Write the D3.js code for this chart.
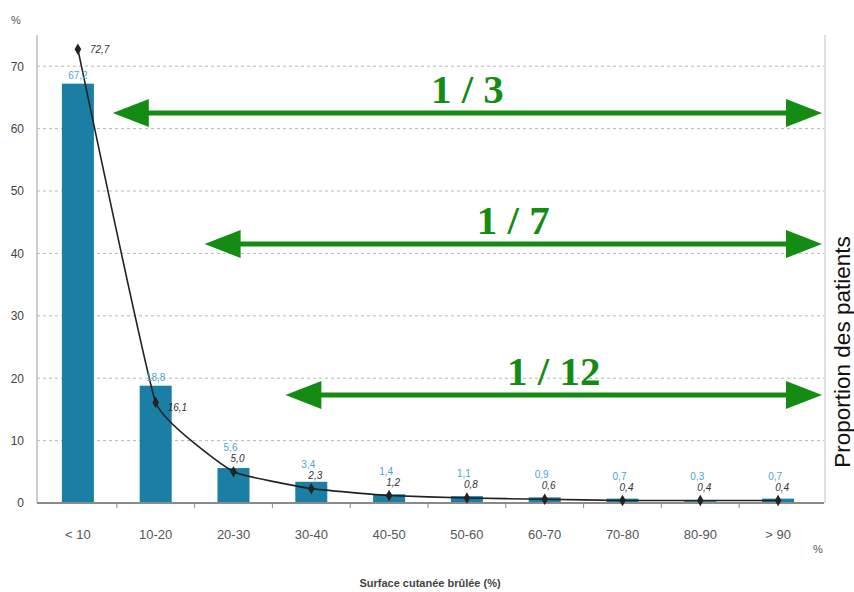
<!DOCTYPE html>
<html>
<head>
<meta charset="utf-8">
<script src="https://cdn.jsdelivr.net/npm/d3@7"></script>
<style>
  body { margin: 0; background: #fff; }
  svg { display: block; }
</style>
</head>
<body>
<svg id="chart" width="854" height="592"></svg>
<script>
// Burned body surface area classes (%)
const categories = ["< 10", "10-20", "20-30", "30-40", "40-50", "50-60", "60-70", "70-80", "80-90", "> 90"];
// Share of patients per class (bars)
const barValues = [67.2, 18.8, 5.6, 3.4, 1.4, 1.1, 0.9, 0.7, 0.3, 0.7];
// Second series drawn as a curve with diamond markers
const lineValues = [72.7, 16.1, 5.0, 2.3, 1.2, 0.8, 0.6, 0.4, 0.4, 0.4];
// Left axis ticks
const yTicks = [0, 10, 20, 30, 40, 50, 60, 70];
// Cumulative proportion annotations and the class where each starts
const shareLabels = ["1 / 3", "1 / 7", "1 / 12"];
const shareFrom = ["10-20", "20-30", "30-40"];

// Layout
const plot = { left: 37, right: 824, top: 35, bottom: 503 };
const arrowLayout = [
  { level: 62.5, nudge: -4 },
  { level: 41.5, nudge: 10 },
  { level: 17.3, nudge: 13 }
];
const green = "#148c14";
const barColor = "#1a7ea5";
const fmt = v => d3.format(".1f")(v).replace(".", ",");

const svg = d3.select("#chart");

const x = d3.scaleBand().domain(categories).range([39, 817]).padding(0);
const y = d3.scaleLinear().domain([0, 75]).range([plot.bottom, plot.top]);
const bw = x.bandwidth();
const cx = c => x(c) + bw / 2;

// Gridlines
svg.append("g")
  .selectAll("line")
  .data(yTicks.filter(t => t > 0))
  .join("line")
  .attr("x1", plot.left).attr("x2", plot.right)
  .attr("y1", d => y(d)).attr("y2", d => y(d))
  .attr("stroke", "#b8b8b8")
  .attr("stroke-width", 1)
  .attr("stroke-dasharray", "3,3");

// Frame lines (left axis and right border)
svg.append("line")
  .attr("x1", plot.left).attr("x2", plot.left)
  .attr("y1", plot.top).attr("y2", plot.bottom)
  .attr("stroke", "#bdbdbd").attr("stroke-width", 1.5);
svg.append("line")
  .attr("x1", plot.right + 1).attr("x2", plot.right + 1)
  .attr("y1", plot.top).attr("y2", plot.bottom)
  .attr("stroke", "#d6d6d6").attr("stroke-width", 1.5);

// Left axis labels
const yAxis = d3.axisLeft(y).tickValues(yTicks).tickSize(0).tickPadding(0);
const gy = svg.append("g").attr("transform", `translate(${plot.left - 13},0)`).call(yAxis);
gy.select(".domain").remove();
gy.selectAll("text")
  .attr("font-family", "Liberation Sans, Arial, sans-serif")
  .attr("font-size", 12)
  .attr("fill", "#444");

svg.append("text")
  .attr("x", 16).attr("y", 24)
  .attr("text-anchor", "middle")
  .attr("font-family", "Liberation Sans, Arial, sans-serif")
  .attr("font-size", 11)
  .attr("fill", "#555")
  .text("%");

// Bars
svg.append("g")
  .selectAll("rect")
  .data(categories)
  .join("rect")
  .attr("x", c => cx(c) - 16)
  .attr("width", 32)
  .attr("y", (c, i) => y(barValues[i]))
  .attr("height", (c, i) => y(0) - y(barValues[i]))
  .attr("fill", barColor);

// Bottom axis
const xAxis = d3.axisBottom(x).tickSize(0).tickPadding(0);
const gx = svg.append("g").attr("transform", `translate(0,${plot.bottom})`).call(xAxis);
gx.select(".domain").remove();
gx.selectAll("text")
  .attr("dy", 0)
  .attr("y", 36)
  .attr("font-family", "Liberation Sans, Arial, sans-serif")
  .attr("font-size", 13)
  .attr("fill", "#555");
svg.append("line")
  .attr("x1", plot.left).attr("x2", plot.right)
  .attr("y1", plot.bottom).attr("y2", plot.bottom)
  .attr("stroke", "#8a8a8a").attr("stroke-width", 2);
// small ticks on the class boundaries
svg.append("g")
  .selectAll("line")
  .data(categories.slice(1))
  .join("line")
  .attr("x1", c => x(c)).attr("x2", c => x(c))
  .attr("y1", plot.bottom).attr("y2", plot.bottom + 5)
  .attr("stroke", "#8a8a8a").attr("stroke-width", 1);

svg.append("text")
  .attr("x", 818).attr("y", 553)
  .attr("text-anchor", "middle")
  .attr("font-family", "Liberation Sans, Arial, sans-serif")
  .attr("font-size", 11)
  .attr("fill", "#555")
  .text("%");

svg.append("text")
  .attr("x", 430).attr("y", 587)
  .attr("text-anchor", "middle")
  .attr("font-family", "Liberation Sans, Arial, sans-serif")
  .attr("font-size", 11)
  .attr("font-weight", "bold")
  .attr("fill", "#444")
  .text("Surface cutanée brûlée (%)");

// Curve through the second series (lightly rounded polyline)
const pts = categories.map((c, i) => [cx(c), y(lineValues[i])]);
svg.append("path")
  .datum(pts)
  .attr("d", d3.line().curve(d3.curveCardinal.tension(0.7)))
  .attr("fill", "none")
  .attr("stroke", "#222")
  .attr("stroke-width", 1.6);
svg.append("g")
  .selectAll("path")
  .data(pts)
  .join("path")
  .attr("transform", d => `translate(${d[0]},${d[1]})`)
  .attr("d", d3.symbol(d3.symbolDiamond, 38))
  .attr("fill", "#222");

// Value labels
const lineLabelPos = (c, i) => {
  const v = lineValues[i];
  if (v > 10) return [cx(c) + 12, y(v) + (i === 0 ? 4 : 8), "start"];
  return [cx(c) + 4, y(v) - 10, "middle"];
};
svg.append("g")
  .selectAll("text")
  .data(categories)
  .join("text")
  .attr("x", (c, i) => lineLabelPos(c, i)[0])
  .attr("y", (c, i) => lineLabelPos(c, i)[1])
  .attr("text-anchor", (c, i) => lineLabelPos(c, i)[2])
  .attr("font-family", "Liberation Sans, Arial, sans-serif")
  .attr("font-size", 10)
  .attr("font-style", "italic")
  .attr("fill", "#333")
  .text((c, i) => fmt(lineValues[i]));

svg.append("g")
  .selectAll("text")
  .data(categories)
  .join("text")
  .attr("x", (c, i) => barValues[i] > 10 ? cx(c) : cx(c) - 3)
  .attr("y", (c, i) => barValues[i] > 10 ? y(barValues[i]) - 5 : lineLabelPos(c, i)[1] - 11)
  .attr("text-anchor", "middle")
  .attr("font-family", "Liberation Sans, Arial, sans-serif")
  .attr("font-size", 10)
  .attr("fill", "#4aa6d0")
  .text((c, i) => fmt(barValues[i]));

// Cumulative proportion arrows
const arrowEnd = 822;
const head = { len: 36, half: 14 };
const ga = svg.append("g");
shareLabels.forEach((label, k) => {
  const x0 = x(shareFrom[k]) + arrowLayout[k].nudge;
  const yy = y(arrowLayout[k].level);
  ga.append("line")
    .attr("x1", x0 + head.len - 4).attr("x2", arrowEnd - head.len + 4)
    .attr("y1", yy).attr("y2", yy)
    .attr("stroke", green).attr("stroke-width", 5);
  ga.append("path")
    .attr("d", `M${x0},${yy} L${x0 + head.len},${yy - head.half} L${x0 + head.len},${yy + head.half} Z`)
    .attr("fill", green);
  ga.append("path")
    .attr("d", `M${arrowEnd},${yy} L${arrowEnd - head.len},${yy - head.half} L${arrowEnd - head.len},${yy + head.half} Z`)
    .attr("fill", green);
  ga.append("text")
    .attr("x", (x0 + arrowEnd) / 2)
    .attr("y", yy - 10)
    .attr("text-anchor", "middle")
    .attr("font-family", "Liberation Serif, Times New Roman, serif")
    .attr("font-weight", "bold")
    .attr("font-size", 41)
    .attr("fill", green)
    .text(label);
});

// Right-hand title
svg.append("text")
  .attr("transform", "translate(850,352) rotate(-90)")
  .attr("text-anchor", "middle")
  .attr("font-family", "Liberation Sans, Arial, sans-serif")
  .attr("font-size", 22.5)
  .attr("fill", "#111")
  .text("Proportion des patients");
</script>
</body>
</html>
